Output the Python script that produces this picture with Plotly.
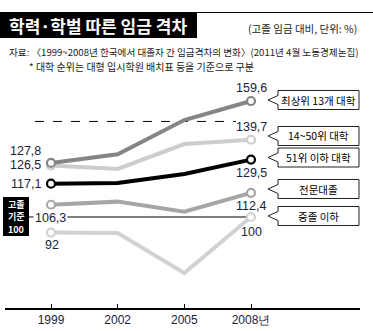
import plotly.graph_objects as go

years = [1999, 2002, 2005, 2008]
tick_labels = ["1999", "2002", "2005", "2008년"]
series_names = ["중졸 이하", "전문대졸", "14~50위 대학", "최상위 13개 대학", "51위 이하 대학"]
top13 = [127.8, 132.2, 149.8, 159.6]
rank14_50 = [126.5, 124.7, 137.5, 139.7]
rank51 = [117.1, 117.5, 122.1, 129.5]
college2 = [106.3, 107.9, 102.7, 112.4]
middle = [92, 91.8, 71.2, 100]
baseline_value = 100
ref_value = 149.1

values = {
    "중졸 이하": middle,
    "전문대졸": college2,
    "14~50위 대학": rank14_50,
    "최상위 13개 대학": top13,
    "51위 이하 대학": rank51,
}
colors = {
    "중졸 이하": "#d2d2d2",
    "전문대졸": "#a6a6a6",
    "14~50위 대학": "#cdcdcd",
    "최상위 13개 대학": "#858585",
    "51위 이하 대학": "#000000",
}

W_FIG, H_FIG = 373, 331
ML, MR, MT, MB = 5, 13, 0, 23
PW = W_FIG - ML - MR
PH = H_FIG - MT - MB
PX_PER_YEAR = 200 / 9.0
PX_PER_UNIT = 1.946
X_MIN = 1999 - (51 - ML) / PX_PER_YEAR
X_MAX = X_MIN + PW / PX_PER_YEAR
Y_MAX = 100 + (217 - MT) / PX_PER_UNIT
Y_MIN = Y_MAX - PH / PX_PER_UNIT


def pxx(px):
    return (px - ML) / PW


def pyy(py):
    return 1 - (py - MT) / PH


def xdata(px):
    return X_MIN + (px - ML) / PX_PER_YEAR


KR = "Noto Sans CJK KR"
NUM = "Liberation Sans Narrow, Arial Narrow, Liberation Sans, sans-serif"
NAVY = "#1b2238"

fig = go.Figure()

for name in series_names:
    v = values[name]
    fig.add_trace(go.Scatter(x=years, y=v, mode="lines",
                             line=dict(color=colors[name], width=4),
                             hoverinfo="skip", showlegend=False))
    fig.add_trace(go.Scatter(x=[years[0], years[-1]], y=[v[0], v[-1]], mode="markers",
                             marker=dict(size=8, color="white",
                                         line=dict(color=colors[name], width=2.2)),
                             hoverinfo="skip", showlegend=False))

shapes = []
shapes.append(dict(type="line", xref="x", yref="y", x0=xdata(35), x1=xdata(236),
                   y0=ref_value, y1=ref_value, line=dict(color="black", width=1, dash="dash"),
                   layer="below"))
shapes.append(dict(type="line", xref="x", yref="y", x0=xdata(29), x1=years[-1],
                   y0=baseline_value, y1=baseline_value, line=dict(color="black", width=1),
                   layer="below"))
shapes.append(dict(type="rect", xref="paper", yref="paper", x0=pxx(0), x1=pxx(197),
                   y0=pyy(38), y1=pyy(12), fillcolor="black", line=dict(width=0)))
shapes.append(dict(type="line", xref="paper", yref="paper", x0=pxx(197), x1=pxx(373),
                   y0=pyy(12.5), y1=pyy(12.5), line=dict(color="black", width=1)))
shapes.append(dict(type="rect", xref="paper", yref="paper", x0=pxx(3), x1=pxx(29),
                   y0=pyy(236), y1=pyy(197), fillcolor="black", line=dict(width=0)))

callout_centers = {
    "최상위 13개 대학": 100,
    "14~50위 대학": 136,
    "51위 이하 대학": 157.5,
    "전문대졸": 189,
    "중졸 이하": 216,
}
annotations = []
for name, cy in callout_centers.items():
    top, bot = cy - 9.5, cy + 9.5
    xl, xr, tip = 278, 359, 268
    pts = [(xr, top), (xl, top), (xl, cy - 4.5), (tip, cy), (xl, cy + 4.5), (xl, bot), (xr, bot)]
    path = "M " + " L ".join(f"{pxx(a):.5f},{pyy(b):.5f}" for a, b in pts) + " Z"
    shapes.append(dict(type="path", xref="paper", yref="paper", path=path,
                       fillcolor="white", line=dict(color="#222", width=1)))
    annotations.append(dict(xref="paper", yref="paper", x=pxx(318.5), y=pyy(cy),
                            text=name, showarrow=False, xanchor="center", yanchor="middle",
                            font=dict(family=KR, size=10.5, color="black")))


def fmt(v):
    return f"{v:g}".replace(".", ",")


NUM_SIZE = 12.5
left_shifts = {
    "최상위 13개 대학": (-8, 12, "right"),
    "14~50위 대학": (-8, 0, "right"),
    "51위 이하 대학": (-8, 0, "right"),
    "중졸 이하": (1, -12, "center"),
}
for name, (xs, ys, anc) in left_shifts.items():
    v = values[name][0]
    annotations.append(dict(x=years[0], y=v, xref="x", yref="y", text=fmt(v), showarrow=False,
                            xanchor=anc, yanchor="middle", xshift=xs, yshift=ys,
                            font=dict(family=NUM, size=NUM_SIZE, color=NAVY)))
annotations.append(dict(x=years[0], y=baseline_value, xref="x", yref="y",
                        text=fmt(values["전문대졸"][0]), showarrow=False,
                        xanchor="center", yanchor="middle", xshift=-1, yshift=-1,
                        bgcolor="white", borderpad=1,
                        font=dict(family=NUM, size=NUM_SIZE, color=NAVY)))
right_shifts = {
    "최상위 13개 대학": 13,
    "14~50위 대학": 13,
    "51위 이하 대학": -13,
    "전문대졸": -13,
    "중졸 이하": -15,
}
for name, ys in right_shifts.items():
    v = values[name][-1]
    annotations.append(dict(x=years[-1], y=v, xref="x", yref="y", text=fmt(v), showarrow=False,
                            xanchor="center", yanchor="middle", xshift=0, yshift=ys,
                            font=dict(family=NUM, size=NUM_SIZE, color=NAVY)))

annotations.append(dict(xref="paper", yref="paper", x=pxx(7), y=pyy(25.5), xanchor="left",
                        yanchor="middle", showarrow=False, text="<b>학력·학벌 따른 임금 격차</b>",
                        font=dict(family=KR, size=17, color="white")))
annotations.append(dict(xref="paper", yref="paper", x=pxx(359), y=pyy(28), xanchor="right",
                        yanchor="middle", showarrow=False, text="(고졸 임금 대비, 단위: %)",
                        font=dict(family=KR, size=10.5, color="#222")))
annotations.append(dict(xref="paper", yref="paper", x=pxx(7), y=pyy(52), xanchor="left",
                        yanchor="middle", showarrow=False,
                        text="자료: 〈1999~2008년 한국에서 대졸자 간 임금격차의 변화〉(2011년 4월 노동경제논집)",
                        font=dict(family=KR, size=9.6, color="#222")))
annotations.append(dict(xref="paper", yref="paper", x=pxx(27), y=pyy(67), xanchor="left",
                        yanchor="middle", showarrow=False,
                        text="* 대학 순위는 대형 입시학원 배치표 등을 기준으로 구분",
                        font=dict(family=KR, size=10, color="#222")))
for txt, yy in (("고졸", 204), ("기준", 216.5), ("100", 229)):
    annotations.append(dict(xref="paper", yref="paper", x=pxx(16), y=pyy(yy), xanchor="center",
                            yanchor="middle", showarrow=False, text=f"<b>{txt}</b>",
                            font=dict(family=KR, size=9, color="white")))

fig.update_layout(
    width=W_FIG, height=H_FIG,
    margin=dict(l=ML, r=MR, t=MT, b=MB),
    paper_bgcolor="white", plot_bgcolor="white",
    showlegend=False,
    shapes=shapes, annotations=annotations,
    xaxis=dict(range=[X_MIN, X_MAX], tickvals=years, ticktext=tick_labels,
               showgrid=False, zeroline=False, showline=True, linecolor="black", linewidth=1.5,
               ticks="inside", ticklen=4, tickcolor="black", tickwidth=1,
               tickfont=dict(family=NUM, size=12, color=NAVY), fixedrange=True),
    yaxis=dict(range=[Y_MIN, Y_MAX], visible=False, showgrid=False, zeroline=False,
               fixedrange=True),
)

fig.write_html("out.html", config={"displayModeBar": False})
